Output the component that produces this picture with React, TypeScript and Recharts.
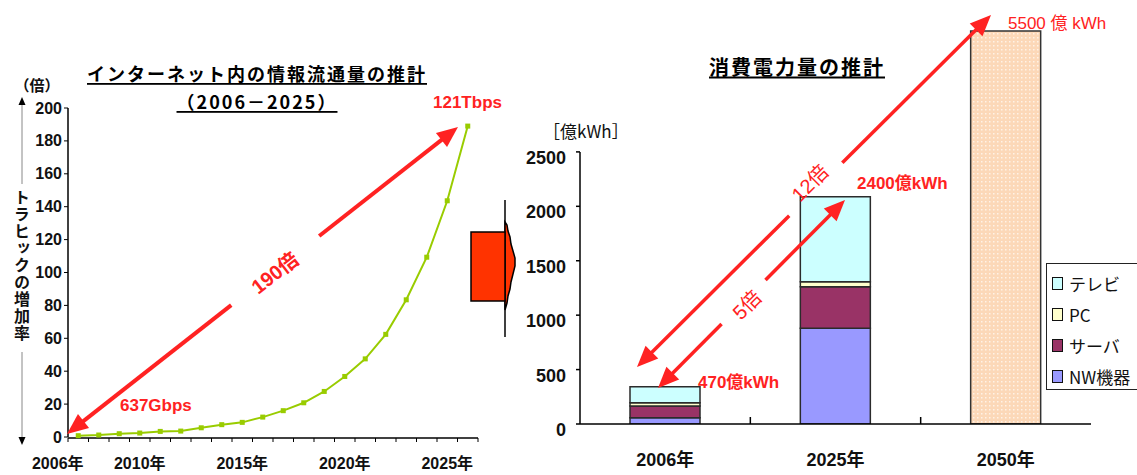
import React from 'react';
import { LineChart, Line, XAxis, YAxis, BarChart, Bar, ReferenceLine } from 'recharts';

// ---------- Left chart data: traffic growth multiple ----------
const YEARS = ['2006', '2007', '2008', '2009', '2010', '2011', '2012', '2013', '2014', '2015',
  '2016', '2017', '2018', '2019', '2020', '2021', '2022', '2023', '2024', '2025'];
const TRAFFIC = [0.8, 1.2, 2, 2.4, 3.4, 3.6, 5.6, 7.5, 8.9, 12.1, 16, 20.8, 27.7, 36.8, 47.5, 62.4, 83.4, 109.3, 143.6, 189];
const YEAR_TICKS = ['2006', '2010', '2015', '2020', '2025'];
const TRAFFIC_TICKS = [0, 20, 40, 60, 80, 100, 120, 140, 160, 180, 200];

// ---------- Right chart data: power consumption ----------
const POWER_CATS = ['2006年', '2025年', '2050年'];
const NW = [58, 880, 0];
const SERVER = [107, 382, 0];
const PC = [31, 46, 0];
const TV = [147, 781, 0];
const FORECAST = [0, 0, 5500];
const POWER_TICKS = [0, 500, 1000, 1500, 2000, 2500];

const SERIES = [
  { key: 'nw', name: 'NW機器', color: '#9999ff', values: NW },
  { key: 'server', name: 'サーバ', color: '#993366', values: SERVER },
  { key: 'pc', name: 'PC', color: '#ffffcc', values: PC },
  { key: 'tv', name: 'テレビ', color: '#ccffff', values: TV },
];

const FONT = "'Liberation Sans', Arial, 'Noto Sans CJK JP', sans-serif";
const JFONT = "'Noto Sans CJK JP', 'Liberation Sans', sans-serif";
const RED = '#ff2222';

const lineData = YEARS.map((y, i) => ({ year: y, traffic: TRAFFIC[i], pos: i + 0.5 }));
const frameTicks = [...YEARS.map((_, i) => i), YEARS.length];

const barData = POWER_CATS.map((c, i) => {
  const row: any = { cat: c, forecast: FORECAST[i] };
  SERIES.forEach((s) => { row[s.key] = s.values[i]; });
  return row;
});

const SquareDot = (props: any) => {
  const { cx, cy } = props;
  if (cx == null || cy == null) return <g />;
  return <rect x={cx - 2.5} y={cy - 2.5} width={5} height={5} fill="#99cc00" />;
};

const LeftYTick = (props: any) => {
  const { x, y, payload } = props;
  return (
    <text x={x} y={y} textAnchor="end" dominantBaseline="central" fontSize={16} fontWeight="bold"
      fontFamily={FONT} fill="#111">{payload.value}</text>
  );
};

const YearTick = (props: any) => {
  const { x, y, payload, width } = props;
  const bw = (width || 410) / YEARS.length;
  return (
    <text x={x - bw} y={y + 32} textAnchor="middle" fontSize={16} fontWeight="bold"
      fontFamily={FONT} fill="#111">{payload.value}年</text>
  );
};

const PowerYTick = (props: any) => {
  const { x, y, payload } = props;
  return (
    <text x={x} y={y} dy={6} textAnchor="end" dominantBaseline="central" fontSize={18} fontWeight="bold"
      fontFamily={FONT} fill="#111">{payload.value}</text>
  );
};

const PowerXTick = (props: any) => {
  const { x, y, payload, width, index } = props;
  const bw = (width || 511) / POWER_CATS.length;
  return (
    <g>
      {index > 0 && <line x1={x - bw / 2} x2={x - bw / 2} y1={y} y2={y - 7} stroke="#000" strokeWidth={1.5} />}
      <text x={x} y={y + 42} textAnchor="middle" fontSize={18} fontWeight="bold" fontFamily={FONT} fill="#111">
        {payload.value}
      </text>
    </g>
  );
};

const ClampedBar = (props: any) => {
  const { x, y, width, height, background } = props;
  if (!height || height <= 0) return <g />;
  const top = background && background.y != null ? Math.max(y, background.y + 1) : y;
  const bottom = y + height;
  return <rect x={x} y={top} width={width} height={bottom - top} fill="url(#peachDots)" stroke="#333" strokeWidth={1.5} />;
};

function DoubleArrow({ a, b, gap, head = 20, headW = 17, sw = 4 }: any) {
  const dx = b[0] - a[0];
  const dy = b[1] - a[1];
  const len = Math.hypot(dx, dy);
  const ux = dx / len, uy = dy / len;
  const px = -uy, py = ux;
  const pt = (t: number) => [a[0] + dx * t, a[1] + dy * t];
  const tri = (tip: number[], dir: number) => {
    const bx = tip[0] - dir * ux * head;
    const by = tip[1] - dir * uy * head;
    return `${tip[0]},${tip[1]} ${bx + (px * headW) / 2},${by + (py * headW) / 2} ${bx - (px * headW) / 2},${by - (py * headW) / 2}`;
  };
  const s1 = [a[0] + ux * head * 0.8, a[1] + uy * head * 0.8];
  const s2 = [b[0] - ux * head * 0.8, b[1] - uy * head * 0.8];
  const g1 = pt(gap[0]);
  const g2 = pt(gap[1]);
  return (
    <g>
      <line x1={s1[0]} y1={s1[1]} x2={g1[0]} y2={g1[1]} stroke={RED} strokeWidth={sw} />
      <line x1={g2[0]} y1={g2[1]} x2={s2[0]} y2={s2[1]} stroke={RED} strokeWidth={sw} />
      <polygon points={tri(a, -1)} fill={RED} />
      <polygon points={tri(b, 1)} fill={RED} />
    </g>
  );
}

export default function App() {
  return (
    <div style={{ position: 'absolute', left: 0, top: 0, width: 1137, height: 475, overflow: 'hidden', background: '#fff' }}>
      <svg width={0} height={0} style={{ position: 'absolute' }}>
        <defs>
          <pattern id="peachDots" width={4} height={4} patternUnits="userSpaceOnUse">
            <rect width={4} height={4} fill="#fcd8b8" />
            <rect x={1} y={1} width={1.5} height={1.5} fill="#fff2e6" />
          </pattern>
        </defs>
      </svg>

      {/* Left chart */}
      <div style={{ position: 'absolute', left: 0, top: 0 }}>
        <LineChart width={500} height={475} data={lineData} margin={{ top: 108, right: 22, bottom: 36, left: 8 }}>
          <XAxis xAxisId="frame" type="number" dataKey="pos" domain={[0, YEARS.length]} allowDataOverflow
            ticks={frameTicks} interval={0} height={1} tick={() => <g />} tickSize={4}
            axisLine={{ stroke: '#000', strokeWidth: 1.5 }} tickLine={{ stroke: '#000' }} />
          <XAxis xAxisId="cat" dataKey="year" type="category" scale="band" ticks={YEAR_TICKS} interval={0}
            height={1} tickSize={0} tickMargin={0} axisLine={false} tickLine={false} tick={YearTick} />
          <YAxis width={60} domain={[0, 200]} ticks={TRAFFIC_TICKS} interval={0} tickSize={4} tickMargin={2}
            axisLine={{ stroke: '#000', strokeWidth: 1.5 }} tickLine={{ stroke: '#000' }} tick={LeftYTick} />
          <Line xAxisId="cat" dataKey="traffic" stroke="#99cc00" strokeWidth={2} dot={SquareDot}
            isAnimationActive={false} type="linear" />
        </LineChart>
      </div>

      {/* Right chart */}
      <div style={{ position: 'absolute', left: 500, top: 0 }}>
        <BarChart width={637} height={475} data={barData} margin={{ top: 30, right: 46, bottom: 0, left: 20 }} barSize={70}>
          <XAxis dataKey="cat" height={51} tickSize={0} tickMargin={0} interval={0}
            axisLine={{ stroke: '#000', strokeWidth: 1.5 }} tickLine={false} tick={PowerXTick} />
          <YAxis width={60} domain={[0, 3620]} allowDataOverflow ticks={POWER_TICKS} interval={0}
            tickSize={4} tickMargin={10} axisLine={false} tickLine={{ stroke: '#000', strokeWidth: 1.5 }} tick={PowerYTick} />
          <ReferenceLine segment={[{ x: POWER_CATS[0], y: 0 }, { x: POWER_CATS[0], y: POWER_TICKS[POWER_TICKS.length - 1] }]}
            position="start" stroke="#000" strokeWidth={1.5} />
          {SERIES.map((s) => (
            <Bar key={s.key} dataKey={s.key} name={s.name} stackId="p" fill={s.color} stroke="#2b2b2b"
              strokeWidth={1.5} isAnimationActive={false} />
          ))}
          <Bar dataKey="forecast" stackId="p" fill="url(#peachDots)" shape={ClampedBar} isAnimationActive={false} />
        </BarChart>
      </div>

      {/* Legend */}
      <div style={{ position: 'absolute', left: 1046, top: 263, width: 110, height: 127, border: '1.5px solid #222', background: '#fff', boxSizing: 'border-box' }}>
        {[...SERIES].reverse().map((s, i) => (
          <div key={s.key} style={{ position: 'absolute', left: 5, top: 11 + i * 31, height: 17, display: 'flex', alignItems: 'center' }}>
            <div style={{ width: 9, height: 11, background: s.color, border: '1.5px solid #111' }} />
            <span style={{ marginLeft: 6, fontSize: 17, fontFamily: JFONT, color: '#111', lineHeight: '17px' }}>{s.name}</span>
          </div>
        ))}
      </div>

      {/* Vertical y label of left chart */}
      <div style={{ position: 'absolute', left: 13, top: 189, writingMode: 'vertical-rl', fontSize: 16, fontWeight: 'bold', lineHeight: '18px', letterSpacing: 1, fontFamily: JFONT, color: '#111' }}>
        トラヒックの増加率
      </div>

      {/* Overlay annotations */}
      <svg width={1137} height={475} style={{ position: 'absolute', left: 0, top: 0, pointerEvents: 'none' }}>
        {/* titles */}
        <text x={257} y={73} textAnchor="middle" dominantBaseline="central" fontSize={18} fontWeight="bold" fontFamily={JFONT}
          textDecoration="underline" letterSpacing={2} fill="#000">インターネット内の情報流通量の推計</text>
        <text x={257} y={101} textAnchor="middle" dominantBaseline="central" fontSize={18} fontWeight="bold" fontFamily={JFONT}
          textDecoration="underline" letterSpacing={2} fill="#000">（2006－2025）</text>
        <text x={797} y={66} textAnchor="middle" dominantBaseline="central" fontSize={20} fontWeight="bold" fontFamily={JFONT}
          textDecoration="underline" letterSpacing={2} fill="#000">消費電力量の推計</text>

        {/* left axis unit + arrows */}
        <text x={37} y={84} textAnchor="middle" dominantBaseline="central" fontSize={15} fontWeight="bold" fontFamily={JFONT} fill="#111">（倍）</text>
        <line x1={22} y1={104} x2={22} y2={184} stroke="#888" strokeWidth={1} />
        <polygon points="22,97 18.5,105 25.5,105" fill="#000" />
        <line x1={22} y1={352} x2={22} y2={438} stroke="#888" strokeWidth={1} />
        <polygon points="22,445 18.5,437 25.5,437" fill="#000" />

        {/* right unit */}
        <text x={543} y={130} dominantBaseline="central" fontSize={17} fontFamily={JFONT} fill="#111">［億kWh］</text>

        {/* middle decorative arrow block */}
        <line x1={505} y1={200} x2={505} y2={337} stroke="#000" strokeWidth={1.5} />
        <polygon points="505,222 507,225 508,231 510,237 511,244 513,251 515,258 515,266 513,274 511,282 510,289 508,296 507,303 505,310"
          fill="#ff3300" stroke="#000" strokeWidth={1.5} />
        <rect x={471} y={232} width={34} height={69} fill="#ff3300" stroke="#000" strokeWidth={1.5} />

        {/* left red annotations */}
        <DoubleArrow a={[67, 434]} b={[458, 127]} gap={[0.42, 0.645]} head={21} headW={18} sw={4} />
        <text x={275} y={273} textAnchor="middle" dominantBaseline="central" fontSize={20} fontWeight="bold" fontFamily={FONT}
          fill={RED} transform="rotate(-38 275 273)">190倍</text>
        <text x={433} y={102} dominantBaseline="central" fontSize={17} fontWeight="bold" fontFamily={FONT} fill={RED}>121Tbps</text>
        <text x={120} y={405} dominantBaseline="central" fontSize={17} fontWeight="bold" fontFamily={FONT} fill={RED}>637Gbps</text>

        {/* right red annotations */}
        <DoubleArrow a={[637, 367]} b={[991, 15]} gap={[0.43, 0.58]} head={21} headW={18} sw={3.5} />
        <text x={810} y={183} textAnchor="middle" dominantBaseline="central" fontSize={20} fontFamily={FONT}
          fill={RED} transform="rotate(-45 810 183)">12倍</text>
        <DoubleArrow a={[658, 388]} b={[845, 200]} gap={[0.34, 0.575]} head={21} headW={18} sw={3.5} />
        <text x={747} y={305} textAnchor="middle" dominantBaseline="central" fontSize={20} fontFamily={FONT}
          fill={RED} transform="rotate(-45 747 305)">5倍</text>
        <text x={857} y={183} dominantBaseline="central" fontSize={17} fontWeight="bold" fontFamily={FONT} fill={RED}>2400億kWh</text>
        <text x={698} y={382} dominantBaseline="central" fontSize={17} fontWeight="bold" fontFamily={FONT} fill={RED}>470億kWh</text>
        <text x={1008} y={23} dominantBaseline="central" fontSize={17} fontFamily={FONT} fill={RED}>5500 億 kWh</text>
      </svg>
    </div>
  );
}
